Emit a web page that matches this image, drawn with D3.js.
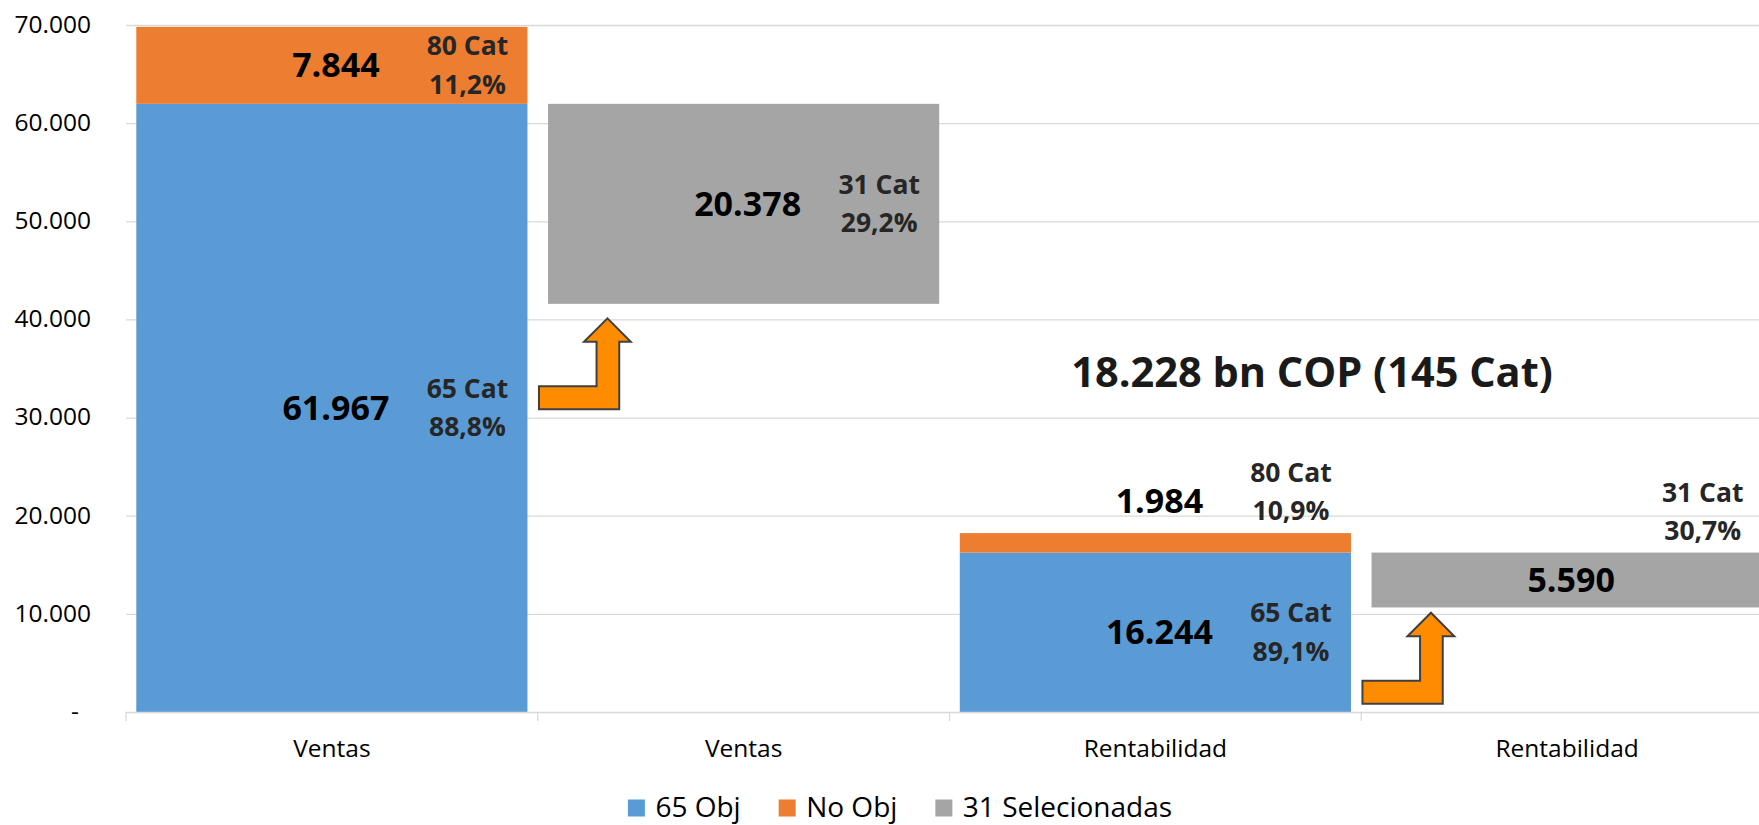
<!DOCTYPE html>
<html>
<head>
<meta charset="utf-8">
<script src="https://cdn.jsdelivr.net/npm/d3@7"></script>
<style>
  html, body { margin: 0; padding: 0; background: #ffffff; }
  svg { display: block; font-family: "Open Sans", "Liberation Sans", sans-serif; }
</style>
</head>
<body>
<svg id="chart" width="1759" height="825"></svg>
<script>
// ---------------- data ----------------
const categories = ["Ventas", "Ventas", "Rentabilidad", "Rentabilidad"];
const obj65      = [61967, null, 16244, null];
const noObj      = [7844, null, 1984, null];
const selected   = [null, 20378, null, 5590];
const obj65Cats  = ["65 Cat", null, "65 Cat", null];
const obj65Pct   = ["88,8%", null, "89,1%", null];
const noObjCats  = ["80 Cat", null, "80 Cat", null];
const noObjPct   = ["11,2%", null, "10,9%", null];
const selCats    = [null, "31 Cat", null, "31 Cat"];
const selPct     = [null, "29,2%", null, "30,7%"];
const yTicks     = [0, 10000, 20000, 30000, 40000, 50000, 60000, 70000];
const seriesNames = ["65 Obj", "No Obj", "31 Selecionadas"];
const totalLabel = "18.228 bn COP (145 Cat)";

// ---------------- setup ----------------
const colors = ["#5B9BD5", "#ED7D31", "#A5A5A5"];
const svg = d3.select("#chart");
const plotLeft = 126, plotRight = 1773, baseY = 712, topY = 25;

const x = d3.scaleBand().domain(d3.range(categories.length))
  .range([plotLeft, plotRight]).paddingInner(0.05).paddingOuter(0.025);
const y = d3.scaleLinear().domain([0, 70000]).range([baseY, topY]);
const locale = d3.formatLocale({decimal: ",", thousands: ".", grouping: [3], currency: ["", ""]});
const fmt = locale.format(",d");

// ---------------- gridlines & y axis ----------------
const yAxis = d3.axisLeft(y).tickValues(yTicks)
  .tickSize(-(plotRight - plotLeft)).tickPadding(35)
  .tickFormat(d => d === 0 ? "-" : fmt(d));
const gy = svg.append("g").attr("transform", `translate(${plotLeft},0)`).call(yAxis);
gy.select(".domain").remove();
gy.selectAll(".tick line").attr("stroke", "#D9D9D9").attr("stroke-width", 1.3)
  .attr("opacity", d => d === 0 ? 0 : 1);
gy.selectAll(".tick text").attr("fill", "#000").attr("font-size", 24.5)
  .attr("font-family", "Open Sans").attr("dy", "0.3em")
  .attr("dx", d => d === 0 ? -12 : 0);

// ---------------- segments ----------------
const segs = [];
categories.forEach((c, i) => {
  if (obj65[i] != null) {
    segs.push({i, s: 0, v0: 0, v1: obj65[i], val: obj65[i], cat: obj65Cats[i], pct: obj65Pct[i]});
  }
  if (noObj[i] != null) {
    segs.push({i, s: 1, v0: obj65[i], v1: obj65[i] + noObj[i], val: noObj[i], cat: noObjCats[i], pct: noObjPct[i]});
  }
  if (selected[i] != null) {
    const top = obj65[i - 1];
    segs.push({i, s: 2, v0: top - selected[i], v1: top, val: selected[i], cat: selCats[i], pct: selPct[i]});
  }
});

svg.append("g").selectAll("rect").data(segs).join("rect")
  .attr("x", d => x(d.i))
  .attr("width", x.bandwidth())
  .attr("y", d => y(d.v1))
  .attr("height", d => y(d.v0) - y(d.v1))
  .attr("fill", d => colors[d.s]);

// ---------------- x axis ----------------
svg.append("line").attr("x1", plotLeft).attr("x2", plotRight)
  .attr("y1", baseY + 0.5).attr("y2", baseY + 0.5)
  .attr("stroke", "#D9D9D9").attr("stroke-width", 1.3);
const bounds = d3.range(categories.length + 1).map(k => plotLeft + x.step() * x.paddingOuter() - x.step() * x.paddingInner() / 2 + k * x.step() - (k === 0 ? x.step() * (x.paddingOuter() - x.paddingInner() / 2) : 0));
svg.append("g").selectAll("line").data(bounds).join("line")
  .attr("x1", d => d).attr("x2", d => d)
  .attr("y1", baseY).attr("y2", baseY + 9)
  .attr("stroke", "#D9D9D9").attr("stroke-width", 1.3);

const xAxis = d3.axisBottom(x).tickSize(0).tickPadding(28).tickFormat(i => categories[i]);
const gx = svg.append("g").attr("transform", `translate(0,${baseY})`).call(xAxis);
gx.select(".domain").remove();
gx.selectAll(".tick text").attr("fill", "#000").attr("font-size", 24.5).attr("font-family", "Open Sans");

// ---------------- data labels ----------------
const lab = svg.append("g");
segs.forEach(d => {
  const x0 = x(d.i), x1 = x0 + x.bandwidth();
  const top = y(d.v1), bot = y(d.v0), h = bot - top, cy = (top + bot) / 2;
  const vBase = h >= 40 ? cy + 12 : top - 20;
  lab.append("text").attr("x", (x0 + x1) / 2 + 4).attr("y", vBase)
    .attr("text-anchor", "middle").attr("font-weight", 700).attr("font-size", 34)
    .attr("fill", "#000").text(fmt(d.val));
  const cx = x1 - 60;
  const b1 = h >= 65 ? cy - 10 : top - 51;
  const b2 = h >= 65 ? cy + 28.5 : top - 13;
  lab.append("text").attr("x", cx).attr("y", b1).attr("text-anchor", "middle")
    .attr("font-weight", 700).attr("font-size", 26.5).attr("fill", "#262626").text(d.cat);
  lab.append("text").attr("x", cx).attr("y", b2).attr("text-anchor", "middle")
    .attr("font-weight", 700).attr("font-size", 26.5).attr("fill", "#262626").text(d.pct);
});

// ---------------- total annotation ----------------
svg.append("text").attr("x", 1312).attr("y", 387).attr("text-anchor", "middle")
  .attr("font-weight", 700).attr("font-size", 41.5).attr("fill", "#1a1a1a").text(totalLabel);

// ---------------- bent arrows ----------------
const arrowShape = [[0,0],[80.3,0],[80.3,-67.5],[91.8,-67.5],[68.5,-91],[45,-67.5],[57.6,-67.5],[57.6,-23],[0,-23]];
const arrows = [{from: 0, to: 1, gap: 14.5}, {from: 2, to: 3, gap: 5.3}];
arrows.forEach(a => {
  const left = x(a.from) + x.bandwidth() + 11.5;
  const sg = segs.find(s => s.i === a.to && s.s === 2);
  const tipY = y(sg.v0) + a.gap;
  const bottom = tipY + 91;
  svg.append("polygon")
    .attr("points", arrowShape.map(p => [left + p[0], bottom + p[1]].join(",")).join(" "))
    .attr("fill", "#FF8C00").attr("stroke", "#404040").attr("stroke-width", 2)
    .attr("stroke-linejoin", "miter");
});

// ---------------- legend ----------------
const lg = svg.append("g");
const items = seriesNames.map((n, k) => {
  const g = lg.append("g");
  g.append("rect").attr("x", 0).attr("y", 799.5).attr("width", 17).attr("height", 17).attr("fill", colors[k]);
  const t = g.append("text").attr("x", 27.5).attr("y", 817).attr("font-size", 28)
    .attr("fill", "#000").text(n);
  return {g, w: 27.5 + t.node().getComputedTextLength()};
});
const gapL = 38;
const totalW = d3.sum(items, d => d.w) + gapL * (items.length - 1);
let cur = 900 - totalW / 2;
items.forEach(it => { it.g.attr("transform", `translate(${cur},0)`); cur += it.w + gapL; });
</script>
</body>
</html>
